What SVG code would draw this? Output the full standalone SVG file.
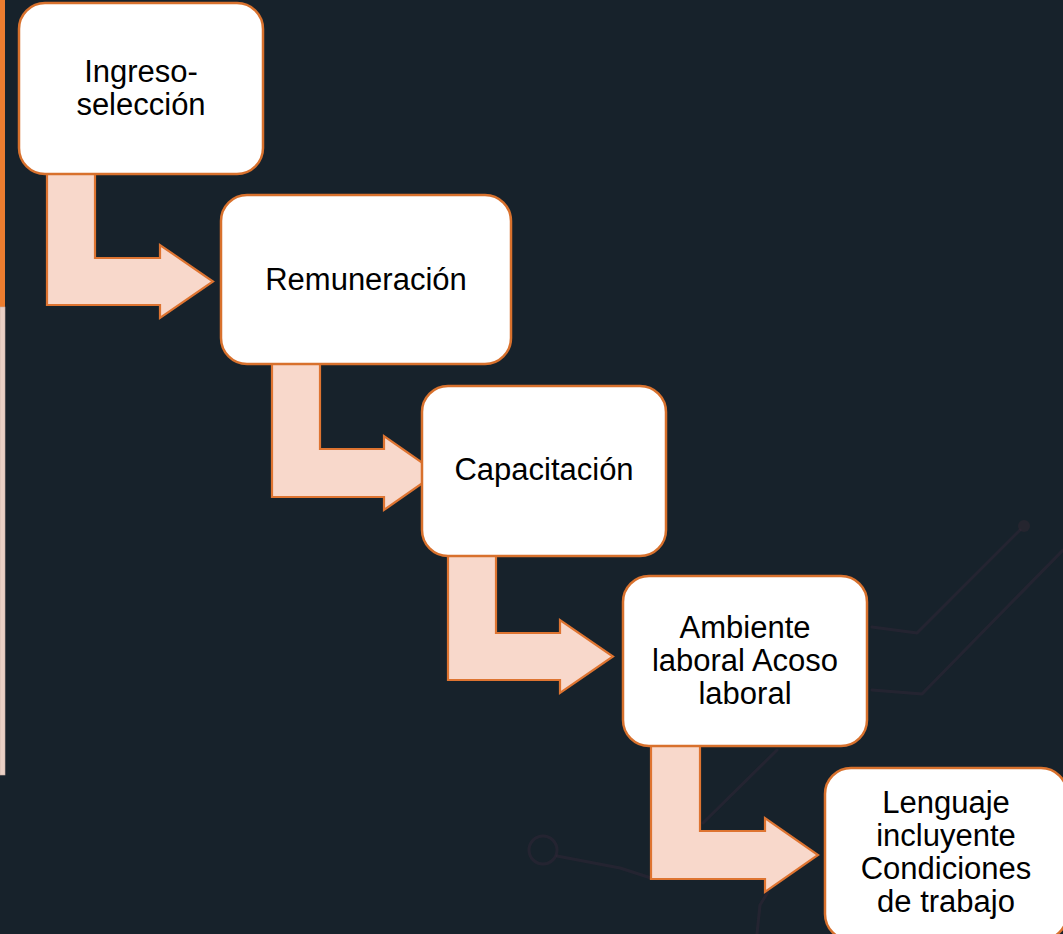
<svg xmlns="http://www.w3.org/2000/svg" width="1063" height="934" viewBox="0 0 1063 934">
<style>
.bg{fill:#17222b}
.deco{fill:none;stroke:#35293a;stroke-width:3;stroke-linecap:round;stroke-linejoin:round;opacity:0.45}
.arrow{fill:#f8d8cb;stroke:#de7431;stroke-width:2.2;stroke-linejoin:miter}
.box{fill:#ffffff;stroke:#d8712d;stroke-width:2.5}
.lbl{font-family:"Liberation Sans",Arial,sans-serif;font-size:31px;fill:#000000;text-anchor:middle}
</style>
<rect class="bg" x="0" y="0" width="1063" height="934"/>
<g id="side-bar">
<rect x="0" y="0" width="5" height="307" fill="#ec7d2f"/>
<rect x="0" y="307" width="5" height="468" fill="#ead0c5" stroke="#c9ada3" stroke-width="0.6"/>
</g>
<g id="decoration">
<path class="deco" d="M872,627 L917,633 L1020,530"/>
<circle cx="1024" cy="526" r="6" fill="#3d2a36" opacity="0.4"/>
<path class="deco" d="M872,690 L922,694 L1063,550"/>
<circle class="deco" cx="543" cy="850" r="14"/>
<path class="deco" d="M557,856 L620,868 L651,878"/>
<path class="deco" d="M703,823 L777,750"/>
<path class="deco" d="M757,934 L760,905 L768,892"/>
</g>
<g id="connectors">
<polygon class="arrow" points="47,173 95,173 95,258 160,258 160,245 213,281.5 160,318 160,305 47,305"/>
<polygon class="arrow" points="272,363 320,363 320,449 384,449 384,436 437,473 384,510 384,497 272,497"/>
<polygon class="arrow" points="448,555 496,555 496,633 560,633 560,620 613,656.5 560,693 560,680 448,680"/>
<polygon class="arrow" points="651,745 700,745 700,831 765,831 765,818 818,855 765,892 765,879 651,879"/>
</g>
<g id="node-ingreso">
<rect class="box" x="19" y="3" width="244" height="171" rx="26"/>
<text class="lbl" x="141" y="82">Ingreso-</text>
<text class="lbl" x="141" y="115">selección</text>
</g>
<g id="node-remuneracion">
<rect class="box" x="221" y="195" width="290" height="169" rx="26"/>
<text class="lbl" x="366" y="290">Remuneración</text>
</g>
<g id="node-capacitacion">
<rect class="box" x="422" y="386" width="244" height="170" rx="26"/>
<text class="lbl" x="544" y="480">Capacitación</text>
</g>
<g id="node-ambiente">
<rect class="box" x="623" y="576" width="244" height="170" rx="26"/>
<text class="lbl" x="745" y="638">Ambiente</text>
<text class="lbl" x="745" y="671">laboral Acoso</text>
<text class="lbl" x="745" y="704">laboral</text>
</g>
<g id="node-lenguaje">
<rect class="box" x="825" y="768" width="242" height="172" rx="26"/>
<text class="lbl" x="946" y="813">Lenguaje</text>
<text class="lbl" x="946" y="846">incluyente</text>
<text class="lbl" x="946" y="879">Condiciones</text>
<text class="lbl" x="946" y="912">de trabajo</text>
</g>
</svg>
